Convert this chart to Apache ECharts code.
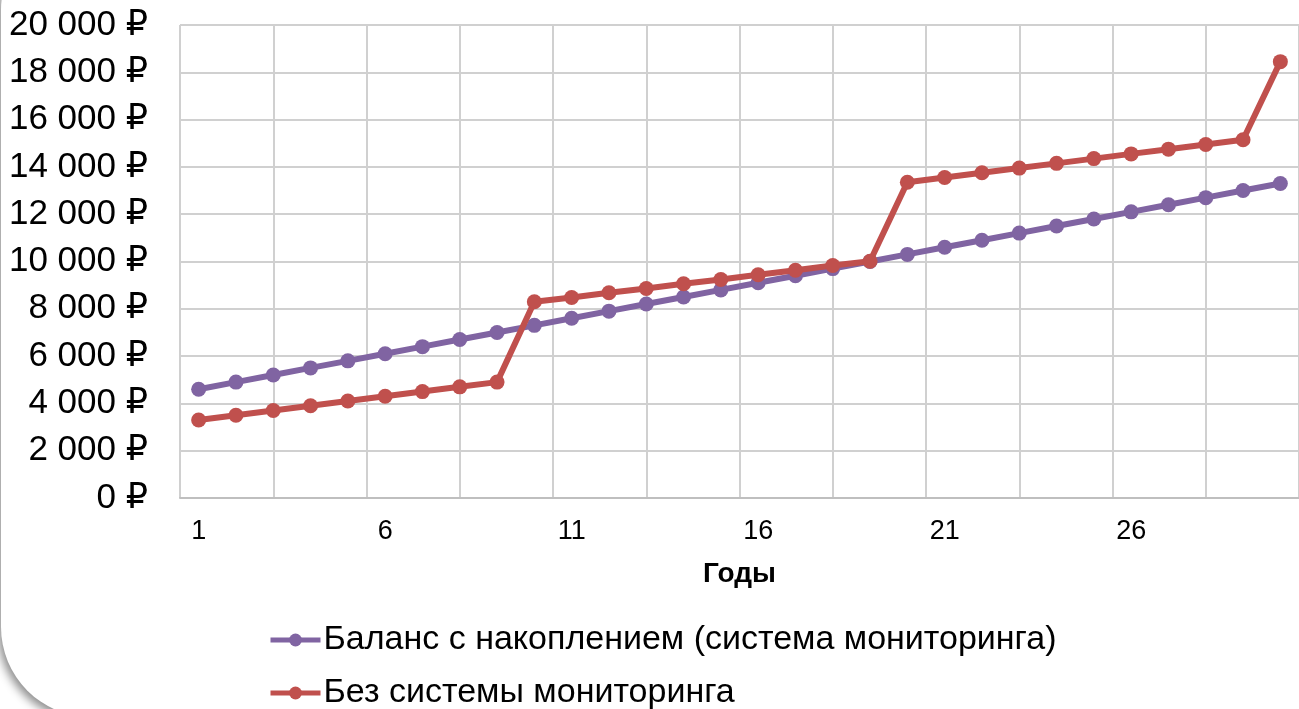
<!DOCTYPE html>
<html>
<head>
<meta charset="utf-8">
<script src="https://cdn.jsdelivr.net/npm/echarts@6/dist/echarts.min.js"></script>
<style>
html,body{margin:0;padding:0;background:#fff;}
#chart{width:1299px;height:709px;}
</style>
</head>
<body>
<div id="chart"></div>
<script>
var years = [1,2,3,4,5,6,7,8,9,10,11,12,13,14,15,16,17,18,19,20,21,22,23,24,25,26,27,28,29,30];
var withMonitoring = [4600,4900,5200,5500,5800,6100,6400,6700,7000,7300,7600,7900,8200,8500,8800,9100,9400,9700,10000,10300,10600,10900,11200,11500,11800,12100,12400,12700,13000,13300];
var withoutMonitoring = [3300,3500,3700,3900,4100,4300,4500,4700,4900,8300,8480,8680,8860,9060,9240,9440,9630,9830,10010,13350,13550,13750,13950,14150,14350,14550,14750,14950,15150,18450];
var seriesNames = ['Баланс с накоплением (система мониторинга)', 'Без системы мониторинга'];
var xAxisName = 'Годы';

var FONT = '"Liberation Sans", Arial, "DejaVu Sans", sans-serif';
function rub(v){
  var s = String(v).replace(/\B(?=(\d{3})+(?!\d))/g, ' ');
  return s + ' ₽';
}
function legendFor(name, top){
  return {
    orient: 'horizontal',
    left: 268,
    top: top,
    padding: 0,
    itemWidth: 50,
    itemHeight: 16,
    lineStyle: {width: 5},
    textStyle: {fontFamily: FONT, fontSize: 34, color: '#000', padding: [0,0,0,-2]},
    data: [name]
  };
}

var chart = echarts.init(document.getElementById('chart'), null, {renderer:'canvas'});
chart.setOption({
  backgroundColor: '#ffffff',
  animation: false,
  graphic: [{
    type: 'rect',
    z: -100,
    silent: true,
    shape: {x: 1, y: -80, width: 1500, height: 797, r: 90},
    style: {fill: '#ffffff', shadowBlur: 10, shadowColor: 'rgba(0,0,0,0.45)', shadowOffsetX: -3, shadowOffsetY: 4}
  }],
  grid: {left: 180, top: 25, bottom: 211, right: -9, containLabel: false},
  xAxis: [{
    type: 'category',
    data: years,
    boundaryGap: true,
    position: 'bottom',
    name: xAxisName,
    nameLocation: 'middle',
    nameGap: 62,
    nameTextStyle: {fontFamily: FONT, fontSize: 28, fontWeight: 'bold', color: '#000'},
    axisLine: {show: true, lineStyle: {color: '#bfbfbf', width: 2}},
    axisTick: {show: false},
    splitLine: {show: false},
    axisLabel: {interval: 4, margin: 20, fontFamily: FONT, fontSize: 27, color: '#000'}
  }, {
    type: 'value',
    min: 0, max: 12, interval: 1,
    position: 'top',
    axisLine: {show: false},
    axisTick: {show: false},
    axisLabel: {show: false},
    splitLine: {show: true, lineStyle: {color: '#d0d0d0', width: 2}}
  }],
  yAxis: {
    type: 'value',
    min: 0, max: 20000, interval: 2000,
    axisLine: {show: false},
    axisTick: {show: false},
    axisLabel: {margin: 32, fontFamily: FONT, fontSize: 35, color: '#000', formatter: rub},
    splitLine: {show: true, lineStyle: {color: '#d0d0d0', width: 2}}
  },
  legend: [legendFor(seriesNames[0], 623), legendFor(seriesNames[1], 676)],
  series: [{
    name: seriesNames[0],
    type: 'line',
    data: withMonitoring,
    symbol: 'circle',
    symbolSize: 15,
    lineStyle: {width: 6, color: '#8064A2'},
    itemStyle: {color: '#8064A2'},
    z: 3
  }, {
    name: seriesNames[1],
    type: 'line',
    data: withoutMonitoring,
    symbol: 'circle',
    symbolSize: 15,
    lineStyle: {width: 6, color: '#C0504D'},
    itemStyle: {color: '#C0504D'},
    z: 4
  }]
});
</script>
</body>
</html>
